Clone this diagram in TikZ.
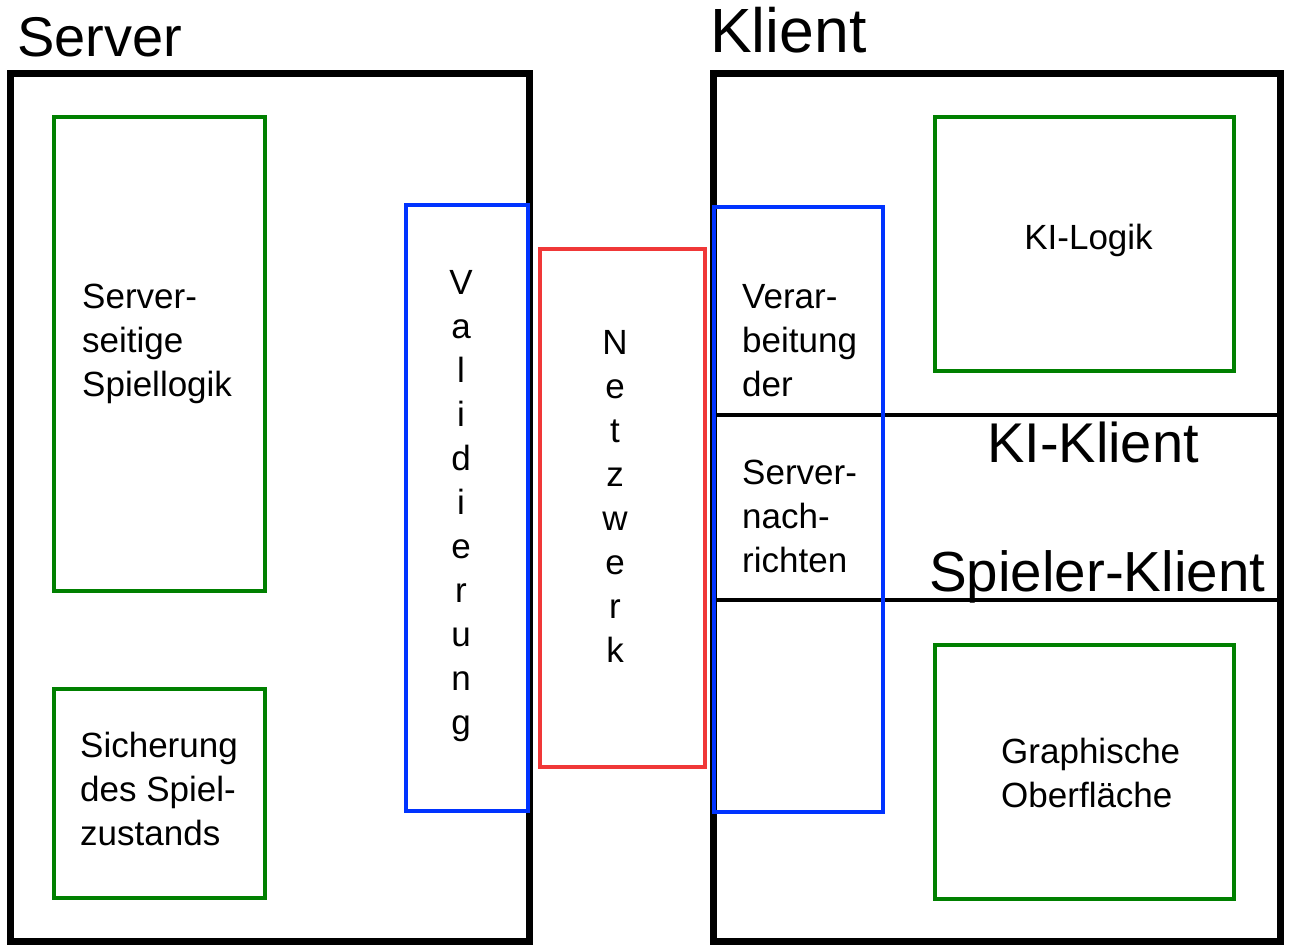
\documentclass[tikz,border=0pt]{standalone}
\usepackage{fontspec}
\setmainfont{Liberation Sans}
\definecolor{cgreen}{RGB}{0,128,0}
\definecolor{cblue}{RGB}{0,51,255}
\definecolor{cred}{RGB}{240,56,56}
\begin{document}
\begin{tikzpicture}[x=1pt,y=-1pt,
  outer/.style={draw=black,line width=7pt},
  divline/.style={draw=black,line width=4.5pt},
  gbox/.style={draw=cgreen,line width=4pt},
  bbox/.style={draw=cblue,line width=4pt},
  rbox/.style={draw=cred,line width=4pt},
  big/.style={inner sep=0pt,font=\fontsize{56}{60}\selectfont},
  small/.style={inner sep=0pt,font=\fontsize{35}{44}\selectfont},
  letter/.style={inner sep=0pt,anchor=base,font=\fontsize{35}{44}\selectfont}]
\useasboundingbox (0,0) rectangle (1292,945);
% outer boxes
\draw[outer] (10,73) rectangle (529,941);
\draw[outer] (713,73) rectangle (1280,941);
\coordinate (d1l) at (713,415); \coordinate (d1r) at (1280,415);
\coordinate (d2l) at (713,600); \coordinate (d2r) at (1280,600);
\draw[divline] (d1l) -- (d1r);
\draw[divline] (d2l) -- (d2r);
% green boxes
\draw[gbox] (54,117) rectangle (265,591);
\draw[gbox] (54,689) rectangle (265,898);
\draw[gbox] (935,117) rectangle (1234,371);
\draw[gbox] (935,645) rectangle (1234,899);
% blue and red
\draw[rbox] (540,249) rectangle (705,767);
\draw[bbox] (406,205) rectangle (528,811);
\draw[bbox] (714,207) rectangle (883,812);
% titles
\node[big,anchor=base west] (tserver) at (17,56) {Server};
\node[inner sep=0pt,anchor=base west,font=\fontsize{62.5}{66}\selectfont] (tklient) at (710,52) {Klient};
\node[inner sep=0pt,anchor=base west,font=\fontsize{56}{60}\selectfont] (tki) at (987,462) {KI-Klient};
\node[inner sep=0pt,anchor=base west,font=\fontsize{56.5}{60}\selectfont] (tsp) at (929,591) {Spieler-Klient};
% server texts
\node[small,anchor=base west] (s1) at (82,308) {Server-};
\node[small,anchor=base west] (s2) at (82,352) {seitige};
\node[small,anchor=base west] (s3) at (82,396) {Spiellogik};
\node[small,anchor=base west] (z1) at (80,757) {Sicherung};
\node[small,anchor=base west] (z2) at (80,801) {des Spiel-};
\node[small,anchor=base west] (z3) at (80,845) {zustands};
% client texts
\node[small,anchor=base west] (v1) at (742,308) {Verar-};
\node[small,anchor=base west] (v2) at (742,352) {beitung};
\node[small,anchor=base west] (v3) at (742,396) {der};
\node[small,anchor=base west] (n1) at (742,484) {Server-};
\node[small,anchor=base west] (n2) at (742,528) {nach-};
\node[small,anchor=base west] (n3) at (742,572) {richten};
\node[small,anchor=base] (kl) at (1088.5,249) {KI-Logik};
\node[small,anchor=base west] (g1) at (1001,763) {Graphische};
\node[small,anchor=base west] (g2) at (1001,807) {Oberfläche};
% vertical words
\foreach \c [count=\i from 0] in {V,a,l,i,d,i,e,r,u,n,g}
  \node[letter] (val\i) at (461,294+44*\i) {\c};
\foreach \c [count=\i from 0] in {N,e,t,z,w,e,r,k}
  \node[letter] (net\i) at (615,354+44*\i) {\c};
\end{tikzpicture}
\end{document}
